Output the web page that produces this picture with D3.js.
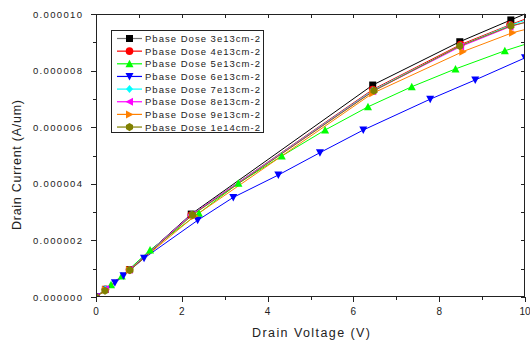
<!DOCTYPE html>
<html><head><meta charset="utf-8">
<script src="https://cdn.jsdelivr.net/npm/d3@7"></script>
<style>body{margin:0;background:#fff}svg{display:block}text{font-family:"Liberation Sans",Arial,sans-serif;fill:#222}</style>
</head><body>
<svg id="c" width="530" height="345"></svg>
<script>
const seriesNames = ["Pbase Dose 3e13cm-2","Pbase Dose 4e13cm-2","Pbase Dose 5e13cm-2","Pbase Dose 6e13cm-2","Pbase Dose 7e13cm-2","Pbase Dose 8e13cm-2","Pbase Dose 9e13cm-2","Pbase Dose 1e14cm-2"];
const colors = ["#000000","#ff0000","#00ff00","#0000ff","#00ffff","#ff00ff","#ff8000","#808000"];
const shapes = ["square","circle","up","down","diamond","left","right","hex"];
// x: drain voltage (V), y: drain current (1e-6 A/um); last points lie just past the axis end
const v3e13 = [0, 0.22, 0.78, 2.22, 6.45, 8.48, 9.67, 10.5];
const i3e13 = [0, 0.27, 0.97, 2.93, 7.49, 9.02, 9.79, 10.32];
const v4e13 = [0, 0.22, 0.78, 2.22, 6.45, 8.5, 9.65, 10.5];
const i4e13 = [0, 0.27, 0.96, 2.9, 7.33, 8.92, 9.62, 10.1];
const v5e13 = [0, 0.35, 0.6, 1.26, 2.4, 3.32, 4.33, 5.34, 6.34, 7.36, 8.38, 9.53, 10.5];
const i5e13 = [0, 0.43, 0.74, 1.66, 2.96, 4.02, 4.98, 5.9, 6.72, 7.43, 8.06, 8.7, 9.17];
const v6e13 = [0, 0.23, 0.44, 0.64, 1.12, 2.37, 3.2, 4.25, 5.22, 6.23, 7.79, 8.84, 10];
const i6e13 = [0, 0.26, 0.5, 0.75, 1.37, 2.71, 3.52, 4.31, 5.1, 5.9, 6.99, 7.67, 8.45];
const v7e13 = [0, 0.22, 0.78, 2.22, 6.45, 8.5, 9.65, 10.5];
const i7e13 = [0, 0.27, 0.96, 2.9, 7.3, 8.88, 9.6, 10.02];
const v8e13 = [0, 0.22, 0.78, 2.22, 6.45, 8.5, 9.65, 10.5];
const i8e13 = [0, 0.27, 0.96, 2.9, 7.27, 8.85, 9.55, 9.93];
const v9e13 = [0, 0.22, 0.78, 2.3, 6.45, 8.55, 9.71, 10.5];
const i9e13 = [0, 0.26, 0.95, 2.86, 7.2, 8.67, 9.34, 9.64];
const v1e14 = [0, 0.21, 0.79, 2.25, 6.48, 8.48, 9.67, 10.5];
const i1e14 = [0, 0.22, 0.95, 2.9, 7.29, 8.87, 9.58, 9.88];
const xTicks = [0, 2, 4, 6, 8, 10];
const yTicks = [0, 2, 4, 6, 8, 10];
const yTickLabels = ["0.000000","0.000002","0.000004","0.000006","0.000008","0.000010"];

const vs = [v3e13,v4e13,v5e13,v6e13,v7e13,v8e13,v9e13,v1e14];
const is = [i3e13,i4e13,i5e13,i6e13,i7e13,i8e13,i9e13,i1e14];
const series = seriesNames.map((n,k)=>({name:n,color:colors[k],shape:shapes[k],pts:vs[k].map((x,j)=>[x,is[k][j]])}));

const L=96,R=525,T=14,B=297;
const svg=d3.select("#c");
const x=d3.scaleLinear().domain([0,10]).range([L,R]);
const y=d3.scaleLinear().domain([0,10]).range([B,T]);

function sym(g,shape,color,s){
  const h=s/2;
  let el;
  if(shape==="square") el=g.append("rect").attr("x",-h).attr("y",-h).attr("width",s).attr("height",s);
  else if(shape==="circle") el=g.append("circle").attr("r",h+0.3);
  else if(shape==="hex") el=g.append("path").attr("d",d3.range(6).map(i=>{const a=Math.PI/6+i*Math.PI/3;return (i?"L":"M")+(Math.cos(a)*(h+0.6)).toFixed(2)+","+(Math.sin(a)*(h+0.6)).toFixed(2);}).join("")+"Z");
  else if(shape==="diamond") el=g.append("path").attr("d",`M0,${-h-0.5}L${h},0L0,${h+0.5}L${-h},0Z`);
  else {
    const t={up:`M0,${-h-0.5}L${h+0.5},${h}L${-h-0.5},${h}Z`,down:`M0,${h+0.5}L${h+0.5},${-h}L${-h-0.5},${-h}Z`,left:`M${-h-0.5},0L${h},${-h-0.5}L${h},${h+0.5}Z`,right:`M${h+0.5},0L${-h},${-h-0.5}L${-h},${h+0.5}Z`}[shape];
    el=g.append("path").attr("d",t);
  }
  el.attr("fill",color).attr("stroke","none");
}

svg.append("defs").append("clipPath").attr("id","clip").append("rect").attr("x",L).attr("y",T-1).attr("width",R-L).attr("height",B-T+1);

// ticks
const axis=svg.append("g").attr("stroke","#222").attr("stroke-width",1);
d3.range(0,10.01,1).forEach(t=>{
  const maj=t%2===0, px=Math.round(x(t))+0.5, py=Math.round(y(t))+0.5;
  axis.append("line").attr("x1",px).attr("x2",px).attr("y1",B).attr("y2",B+(maj?5:3));
  axis.append("line").attr("x1",L-(maj?5:3)).attr("x2",L).attr("y1",py).attr("y2",py);
  axis.append("line").attr("x1",px).attr("x2",px).attr("y1",T).attr("y2",T+4);
  axis.append("line").attr("x1",R-4).attr("x2",R).attr("y1",py).attr("y2",py);
});

const plot=svg.append("g").attr("clip-path","url(#clip)");
const line=d3.line().x(d=>x(d[0])).y(d=>y(d[1]));
series.forEach(s=>{
  plot.append("path").attr("d",line(s.pts)).attr("fill","none").attr("stroke",s.color).attr("stroke-width",1);
});
series.forEach(s=>{
  s.pts.forEach(p=>{ sym(plot.append("g").attr("transform",`translate(${x(p[0])},${y(p[1])})`),s.shape,s.color,7); });
});

svg.append("rect").attr("x",L+0.5).attr("y",T+0.5).attr("width",R-L-1).attr("height",B-T-1).attr("fill","none").attr("stroke","#222");

xTicks.forEach(t=>{
  svg.append("text").attr("x",x(t)).attr("y",B+18).attr("text-anchor","middle").attr("font-size",10).text(t);
});
yTicks.forEach((t,k)=>{
  svg.append("text").attr("x",L-14).attr("y",y(t)+3.5).attr("text-anchor","end").attr("font-size",9.5).attr("textLength",49).attr("lengthAdjust","spacing").text(yTickLabels[k]);
});
svg.append("text").attr("x",252).attr("y",337).attr("font-size",12.5).attr("textLength",118).attr("lengthAdjust","spacing").text("Drain Voltage (V)");
svg.append("text").attr("transform","translate(21,230) rotate(-90)").attr("font-size",12.5).attr("textLength",130).attr("lengthAdjust","spacing").text("Drain Current (A/um)");

// legend
const lg=svg.append("g");
lg.append("rect").attr("x",111.5).attr("y",30.5).attr("width",152).attr("height",102).attr("fill","#fff").attr("stroke","#222");
series.forEach((s,k)=>{
  const cy=38.5+k*12.65;
  lg.append("line").attr("x1",117).attr("x2",142).attr("y1",cy).attr("y2",cy).attr("stroke",k===0?"#777":s.color).attr("stroke-width",1.2);
  sym(lg.append("g").attr("transform",`translate(129.5,${cy})`),s.shape,s.color,7);
  lg.append("text").attr("x",145).attr("y",cy+3.5).attr("font-size",9.5).attr("textLength",115).attr("lengthAdjust","spacing").text(s.name);
});
</script>
</body></html>
